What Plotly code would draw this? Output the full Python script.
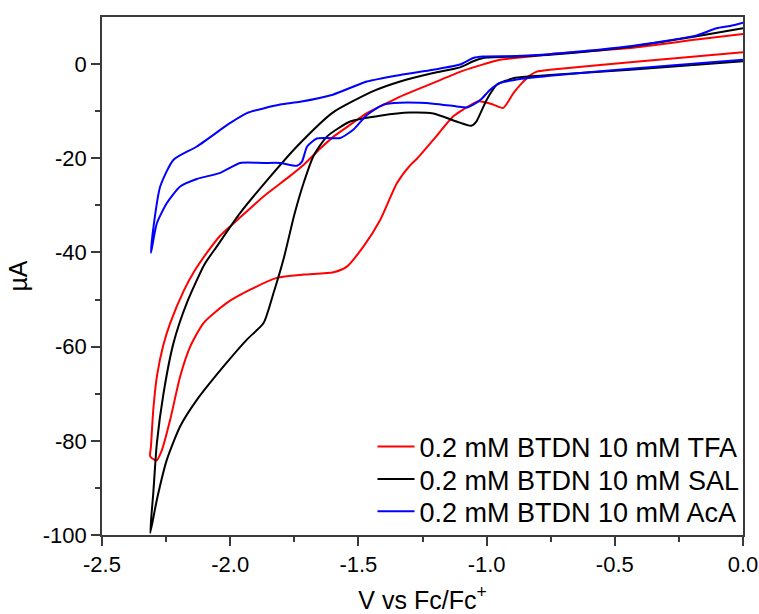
import plotly.graph_objects as go

# TFA (red): forward branch 0 -> -2.31 V, then return branch back to 0 V
tfa_v = [0.0, -0.44, -0.753, -0.804, -0.83, -0.865, -0.896, -0.935, -0.974, -1.03, -1.09, -1.13, -1.208,
         -1.27, -1.30, -1.35, -1.415, -1.48, -1.545, -1.597, -1.714, -1.818, -1.922, -2.013, -2.104,
         -2.156, -2.195, -2.234, -2.266, -2.288, -2.312,
         -2.309, -2.30, -2.285, -2.26, -2.234, -2.18, -2.14, -2.09, -2.04, -1.97, -1.87, -1.77, -1.71,
         -1.65, -1.597, -1.53, -1.467, -1.415, -1.337, -1.208, -1.091, -0.948, -0.83, -0.753, -0.44,
         -0.181, 0.0]
tfa_i = [2.5, 0.4, -1.2, -1.6, -2.4, -4.2, -6.2, -9.3, -8.6, -7.9, -9.6, -11.1, -16.1,
         -20.0, -21.6, -25.3, -33.1, -38.7, -43.0, -44.2, -44.7, -45.4, -47.9, -50.7, -55.0,
         -60.0, -66.3, -75.5, -81.9, -84.2, -83.3,
         -81.2, -73.4, -66.0, -59.5, -55.0, -48.0, -44.0, -40.0, -36.5, -33.0, -28.1, -23.9, -21.2,
         -18.0, -15.4, -12.8, -10.4, -9.0, -6.9, -4.0, -1.4, 0.9, 1.6, 2.1, 3.4,
         5.2, 6.4]

# SAL (black)
sal_v = [0.0, -0.44, -0.753, -0.83, -0.896, -0.96, -1.0, -1.04, -1.06, -1.117, -1.208, -1.298, -1.41,
         -1.532, -1.623, -1.675, -1.714, -1.75, -1.79, -1.831, -1.87, -1.935, -2.026, -2.13, -2.195,
         -2.247, -2.286, -2.312,
         -2.30, -2.286, -2.26, -2.221, -2.169, -2.10, -2.052, -1.961, -1.844, -1.74, -1.60, -1.44,
         -1.337, -1.208, -1.104, -1.052, -1.013, -0.883, -0.753, -0.44, -0.181, 0.0]
sal_i = [0.6, -1.2, -2.3, -2.6, -3.0, -4.4, -7.6, -12.2, -13.1, -12.2, -10.5, -10.3, -10.9,
         -12.2, -15.4, -19.5, -25.3, -32.0, -41.0, -48.6, -55.0, -58.5, -64.2, -71.3, -76.9,
         -84.0, -92.5, -99.6,
         -91.1, -80.5, -69.9, -59.2, -50.7, -42.5, -38.7, -31.6, -23.9, -17.5, -10.3, -5.7,
         -3.7, -1.9, -0.7, 0.6, 1.3, 1.6, 2.0, 3.7, 5.9, 7.6]

# AcA (blue)
aca_v = [0.0, -0.44, -0.753, -0.883, -0.948, -0.987, -1.02, -1.052, -1.078, -1.117, -1.208, -1.337,
         -1.403, -1.467, -1.519, -1.571, -1.623, -1.662, -1.70, -1.72, -1.74, -1.805, -1.87, -1.961,
         -2.039, -2.13, -2.195, -2.247, -2.286, -2.309,
         -2.299, -2.273, -2.221, -2.13, -2.0, -1.935, -1.805, -1.727, -1.60, -1.467, -1.337, -1.208,
         -1.104, -1.052, -1.013, -0.883, -0.753, -0.44, -0.181, -0.103, -0.05, 0.0]
aca_i = [0.9, -1.0, -2.5, -3.3, -4.0, -5.5, -7.4, -8.6, -9.2, -9.0, -8.4, -8.2,
         -8.6, -10.8, -13.9, -15.7, -15.7, -15.8, -17.5, -20.7, -21.6, -21.0, -21.0, -21.0,
         -23.1, -24.4, -26.0, -29.5, -33.8, -40.1,
         -34.5, -26.0, -20.3, -17.5, -12.5, -10.4, -8.6, -8.0, -6.5, -3.7, -2.3, -1.2,
         -0.1, 1.3, 1.6, 1.7, 2.1, 3.8, 6.1, 7.6, 8.1, 8.8]

names = ["0.2 mM BTDN 10 mM TFA", "0.2 mM BTDN 10 mM SAL", "0.2 mM BTDN 10 mM AcA"]
colors = ["#ff0000", "#000000", "#0000ff"]
series = [(tfa_v, tfa_i), (sal_v, sal_i), (aca_v, aca_i)]

x_ticks = [-2.5, -2.0, -1.5, -1.0, -0.5, 0.0]
x_labels = ["-2.5", "-2.0", "-1.5", "-1.0", "-0.5", "0.0"]
y_ticks = [-100, -80, -60, -40, -20, 0]
y_labels = ["-100", "-80", "-60", "-40", "-20", "0"]

legend_ids = ["legend", "legend2", "legend3"]
legend_y = [0.170, 0.107, 0.045]

fig = go.Figure()
for (v, i), n, c, lg in zip(series, names, colors, legend_ids):
    fig.add_trace(go.Scatter(x=v, y=i, mode="lines", name=n, legend=lg,
                             line=dict(color=c, width=2, shape="spline", smoothing=0.6)))

axis_col = "#3a3a3a"
font = "Liberation Sans, Arial, sans-serif"
lay = dict(
    width=759, height=614,
    margin=dict(l=102, r=16, t=17, b=79),
    plot_bgcolor="white", paper_bgcolor="white",
    font=dict(family=font, color="black"),
    showlegend=True,
    xaxis=dict(range=[-2.5, 0.0], tickmode="array", tickvals=x_ticks, ticktext=x_labels,
               automargin=False,
               showgrid=False, zeroline=False, showline=True, linecolor=axis_col, linewidth=1.5,
               mirror=True, ticks="outside", ticklen=9, tickwidth=1.5, tickcolor=axis_col,
               tickfont=dict(size=22, family=font),
               minor=dict(tickvals=[-2.25, -1.75, -1.25, -0.75, -0.25], ticks="outside",
                          ticklen=5, tickwidth=1.5, tickcolor=axis_col),
               title=dict(text="V vs Fc/Fc<sup>+</sup>", font=dict(size=25, family=font), standoff=19)),
    yaxis=dict(range=[-100, 10], tickmode="array", tickvals=y_ticks, ticktext=y_labels,
               automargin=False,
               showgrid=False, zeroline=False, showline=True, linecolor=axis_col, linewidth=1.5,
               mirror=True, ticks="outside", ticklen=9, tickwidth=1.5, tickcolor=axis_col,
               tickfont=dict(size=22, family=font),
               minor=dict(tickvals=[-90, -70, -50, -30, -10], ticks="outside",
                          ticklen=5, tickwidth=1.5, tickcolor=axis_col),
               title=dict(text="µA", font=dict(size=25, family=font), standoff=8)),
)
for lg, ly in zip(legend_ids, legend_y):
    lay[lg] = dict(x=0.422, xanchor="left", y=ly, yanchor="middle", itemwidth=37,
                   font=dict(size=27, family=font), bgcolor="rgba(0,0,0,0)")
fig.update_layout(**lay)

fig.write_html("out.html")
